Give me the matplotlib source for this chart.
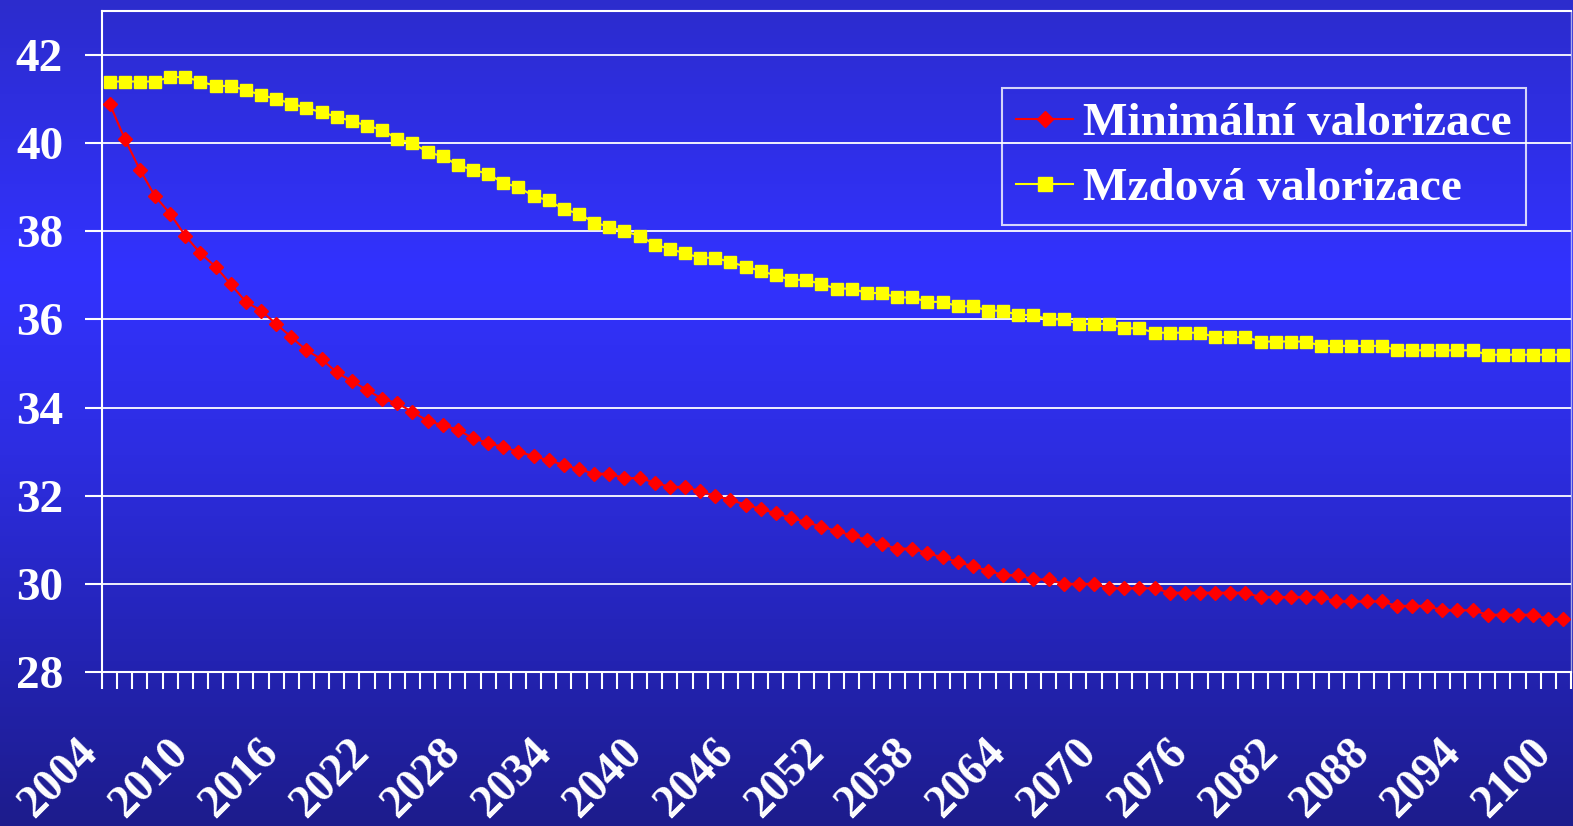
import matplotlib
matplotlib.use("Agg")
import matplotlib.pyplot as plt
import matplotlib.transforms as mtransforms
from matplotlib.colors import LinearSegmentedColormap
import numpy as np

# Data
years = list(range(2004, 2101))

minimalni = [
    40.9, 40.1, 39.4, 38.8, 38.4, 37.9, 37.5, 37.2, 36.8, 36.4,   # 2004-2013
    36.2, 35.9, 35.6, 35.3, 35.1, 34.8, 34.6, 34.4, 34.2, 34.1,   # 2014-2023
    33.9, 33.7, 33.6, 33.5, 33.3, 33.2, 33.1, 33.0, 32.9, 32.8,   # 2024-2033
    32.7, 32.6, 32.5, 32.5, 32.4, 32.4, 32.3, 32.2, 32.2, 32.1,   # 2034-2043
    32.0, 31.9, 31.8, 31.7, 31.6, 31.5, 31.4, 31.3, 31.2, 31.1,   # 2044-2053
    31.0, 30.9, 30.8, 30.8, 30.7, 30.6, 30.5, 30.4, 30.3, 30.2,   # 2054-2063
    30.2, 30.1, 30.1, 30.0, 30.0, 30.0, 29.9, 29.9, 29.9, 29.9,   # 2064-2073
    29.8, 29.8, 29.8, 29.8, 29.8, 29.8, 29.7, 29.7, 29.7, 29.7,   # 2074-2083
    29.7, 29.6, 29.6, 29.6, 29.6, 29.5, 29.5, 29.5, 29.4, 29.4,   # 2084-2093
    29.4, 29.3, 29.3, 29.3, 29.3, 29.2, 29.2,                     # 2094-2100
]

mzdova = [
    41.4, 41.4, 41.4, 41.4, 41.5, 41.5, 41.4, 41.3, 41.3, 41.2,   # 2004-2013
    41.1, 41.0, 40.9, 40.8, 40.7, 40.6, 40.5, 40.4, 40.3, 40.1,   # 2014-2023
    40.0, 39.8, 39.7, 39.5, 39.4, 39.3, 39.1, 39.0, 38.8, 38.7,   # 2024-2033
    38.5, 38.4, 38.2, 38.1, 38.0, 37.9, 37.7, 37.6, 37.5, 37.4,   # 2034-2043
    37.4, 37.3, 37.2, 37.1, 37.0, 36.9, 36.9, 36.8, 36.7, 36.7,   # 2044-2053
    36.6, 36.6, 36.5, 36.5, 36.4, 36.4, 36.3, 36.3, 36.2, 36.2,   # 2054-2063
    36.1, 36.1, 36.0, 36.0, 35.9, 35.9, 35.9, 35.8, 35.8, 35.7,   # 2064-2073
    35.7, 35.7, 35.7, 35.6, 35.6, 35.6, 35.5, 35.5, 35.5, 35.5,   # 2074-2083
    35.4, 35.4, 35.4, 35.4, 35.4, 35.3, 35.3, 35.3, 35.3, 35.3,   # 2084-2093
    35.3, 35.2, 35.2, 35.2, 35.2, 35.2, 35.2,                     # 2094-2100
]

label_years = list(range(2004, 2101, 6))
y_ticks = list(range(28, 43, 2))

font = "Liberation Serif"

fig = plt.figure(figsize=(15.73, 8.26), dpi=100)

# blue gradient background over the whole slide
bg = fig.add_axes([0, 0, 1, 1], zorder=-10)
cmap = LinearSegmentedColormap.from_list("slide", [
    (0.00, (44/255, 44/255, 205/255)),
    (0.33, (50/255, 50/255, 255/255)),
    (0.55, (45/255, 45/255, 225/255)),
    (0.80, (35/255, 35/255, 178/255)),
    (1.00, (29/255, 28/255, 140/255)),
])
bg.imshow(np.linspace(0, 1, 256).reshape(-1, 1), cmap=cmap, aspect="auto",
          extent=[0, 1, 0, 1])
bg.axis("off")

ax = fig.add_axes([102/1573, 1 - 672/826, (1571 - 102)/1573, (672 - 11)/826])
ax.set_facecolor("none")

ax.plot(years, minimalni, color="#ff0000", linewidth=1.5, marker="D",
        markersize=7, label="Minimální valorizace", zorder=4)
ax.plot(years, mzdova, color="#ffff00", linewidth=1.5, marker="s",
        markersize=8, label="Mzdová valorizace", zorder=3)

ax.set_xlim(2003.5, 2100.5)
ax.set_ylim(28, 43)

# y axis
ax.set_yticks(y_ticks)
ax.set_yticklabels([str(v) for v in y_ticks], fontfamily=font,
                   fontweight="bold", fontsize=34, color="white")
ax.tick_params(axis="y", length=12, width=1.5, color="white", pad=16)
ax.grid(axis="y", color="white", linewidth=1.3)
ax.set_axisbelow(True)

# x axis: ticks between categories, labels every 6 years
ax.set_xticks(np.arange(2003.5, 2101, 1.0), minor=True)
ax.set_xticks(label_years)
ax.set_xticklabels([str(y) for y in label_years], fontfamily=font,
                   fontweight="bold", fontsize=33, color="white",
                   rotation=45, ha="right", va="top")
ax.tick_params(axis="x", which="major", length=0, pad=43)
ax.tick_params(axis="x", which="minor", length=12, width=1.5, color="white")
shift = mtransforms.ScaledTranslation(-4/100, 0, fig.dpi_scale_trans)
for lbl in ax.get_xticklabels():
    lbl.set_transform(lbl.get_transform() + shift)

for side in ["left", "top", "bottom"]:
    ax.spines[side].set_color("white")
    ax.spines[side].set_linewidth(1.5)
ax.spines["right"].set_color((1, 1, 1, 0.6))
ax.spines["right"].set_linewidth(1)

leg = ax.legend(loc="upper left", bbox_to_anchor=(1002/1573, 1 - 88/826),
                bbox_transform=fig.transFigure, borderaxespad=0,
                prop={"family": font, "weight": "bold", "size": 34},
                labelcolor="white", frameon=True, fancybox=False,
                handlelength=1.2, handletextpad=0.22, labelspacing=0.47,
                borderpad=0.3, markerscale=1.2)
leg.get_frame().set_facecolor("none")
leg.get_frame().set_edgecolor("white")
leg.get_frame().set_linewidth(1.5)

fig.savefig("out.png", dpi=100)
